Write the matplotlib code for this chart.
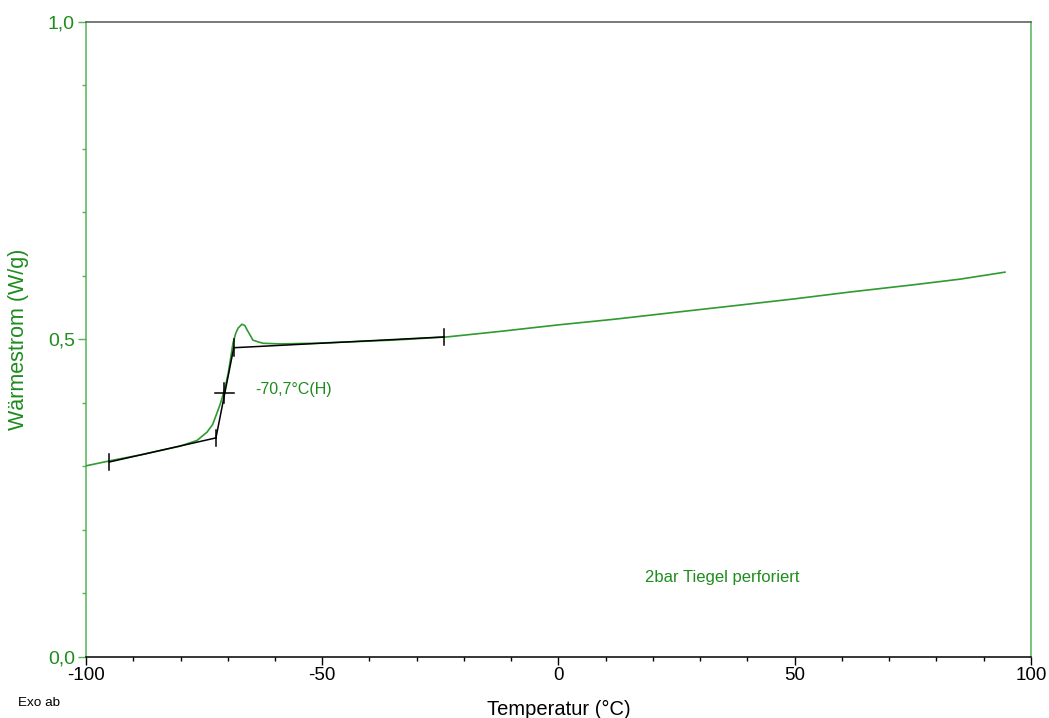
import numpy as np
import matplotlib.pyplot as plt
from matplotlib.ticker import MultipleLocator

# === Daten ===
temp = [-100, -94.9, -88, -80.1, -76.5, -74.4, -73.2, -72.3, -71.6, -71.0, -70.4, -69.9,
        -69.4, -68.9, -68.3, -67.8, -67.0, -66.4, -65.9, -65.2, -64.7, -63.5, -62.5,
        -58.9, -52, -44.8, -35, -23.6, -12, 0, 12, 25, 37, 50, 62, 75, 85, 94.5]
waerme = [0.301, 0.309, 0.319, 0.332, 0.341, 0.354, 0.366, 0.384, 0.398, 0.413, 0.430, 0.447,
          0.470, 0.494, 0.510, 0.518, 0.524, 0.522, 0.515, 0.506, 0.499, 0.496, 0.494,
          0.493, 0.494, 0.496, 0.499, 0.504, 0.513, 0.523, 0.532, 0.543, 0.553, 0.564,
          0.575, 0.586, 0.595, 0.606]

# Auswertung Glasübergang (Tangenten)
base1_t = [-95.1, -72.5]
base1_w = [0.307, 0.345]
steil_t = [-72.5, -68.7]
steil_w = [0.345, 0.488]
base2_t = [-68.7, -24.2]
base2_w = [0.487, 0.504]
mitte_t = -70.7
mitte_w = 0.416

x_ticks = [-100, -50, 0, 50, 100]
y_ticks = [0.0, 0.5, 1.0]
y_labels = ["0,0", "0,5", "1,0"]

gruen_kurve = "#2f9a2f"
gruen_achse = "#55b455"
gruen_text = "#1e8c1e"

plt.rcParams['font.family'] = ['Liberation Sans', 'DejaVu Sans']
plt.rcParams['axes.unicode_minus'] = False

fig = plt.figure(figsize=(10.49, 7.18), dpi=100)
ax = fig.add_axes([0.082, 0.085, 0.9008, 0.8844])

ax.plot(temp, waerme, color=gruen_kurve, lw=1.2, zorder=3)

schwarz = dict(color="black", lw=1.1, zorder=4)
ax.plot(base1_t, base1_w, **schwarz)
ax.plot(steil_t, steil_w, **schwarz)
ax.plot(base2_t, base2_w, **schwarz)

# kleine senkrechte Striche an den Auswertepunkten
for t, w in [(base1_t[0], base1_w[0]), (base1_t[1], base1_w[1]),
             (base2_t[0], base2_w[0]), (base2_t[1], base2_w[1])]:
    ax.plot([t, t], [w - 0.013, w + 0.013], **schwarz)
# Kreuz am Mittelpunkt
ax.plot([mitte_t - 2.1, mitte_t + 2.1], [mitte_w, mitte_w], **schwarz)
ax.plot([mitte_t, mitte_t], [mitte_w - 0.016, mitte_w + 0.016], **schwarz)

ax.text(-64.2, 0.421, "-70,7°C(H)", color=gruen_text, fontsize=11.5, va="center", ha="left")
ax.text(18.3, 0.125, "2bar Tiegel perforiert", color=gruen_text, fontsize=12, va="center", ha="left")

ax.set_xlim(-100, 100)
ax.set_ylim(0, 1.0)
ax.set_xticks(x_ticks)
ax.xaxis.set_minor_locator(MultipleLocator(10))
ax.set_yticks(y_ticks)
ax.set_yticklabels(y_labels)
ax.yaxis.set_minor_locator(MultipleLocator(0.1))

ax.tick_params(axis="x", which="major", direction="out", length=6, width=1, colors="black",
               labelsize=13.5, pad=1)
ax.tick_params(axis="x", which="minor", direction="out", length=3, width=1, colors="black")
ax.tick_params(axis="y", which="major", direction="out", length=6, width=1, color=gruen_achse,
               labelcolor=gruen_text, labelsize=14, pad=2)
ax.tick_params(axis="y", which="minor", direction="out", length=3, width=1, color=gruen_achse)

ax.spines["left"].set_color(gruen_achse)
ax.spines["right"].set_color(gruen_achse)
ax.spines["top"].set_color("#555555")
ax.spines["bottom"].set_color("black")
for s in ax.spines.values():
    s.set_linewidth(1.1)

ax.set_xlabel("Temperatur (°C)", fontsize=14.5, color="black", labelpad=12)
ax.set_ylabel("Wärmestrom (W/g)", fontsize=15.5, color=gruen_text)
ax.yaxis.set_label_coords(-0.0603, 0.5)

fig.text(18 / 1049, 1 - 703 / 718, "Exo ab", fontsize=9.7, color="black", va="center", ha="left")

fig.savefig("out.png", dpi=100)
